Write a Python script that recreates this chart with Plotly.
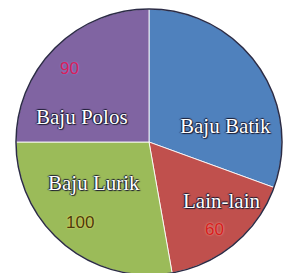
import plotly.graph_objects as go

labels = ["Baju Batik", "Lain-lain", "Baju Lurik", "Baju Polos"]
values = [110, 60, 100, 90]
show_value = [False, True, True, True]
colors = ["#4f81bd", "#c0504d", "#9bbb59", "#8064a2"]

W, H = 292, 276
OFF = 8  # page body margin offset
cx, cy, r = 149 - OFF, 142 - OFF, 133  # pixel geometry of the pie in figure coords

dom_x = [(cx - r) / W, (cx + r) / W]
dom_y = [(H - cy - r) / H, (H - cy + r) / H]

fig = go.Figure(go.Pie(
    labels=labels, values=values, sort=False, direction="clockwise", rotation=0,
    marker=dict(colors=colors, line=dict(color="rgba(255,255,255,0.85)", width=1)),
    textinfo="none", hoverinfo="label+value", showlegend=False,
    domain=dict(x=dom_x, y=dom_y),
))

# outer dark rim
fig.add_shape(type="circle", xref="paper", yref="paper",
              x0=dom_x[0], x1=dom_x[1], y0=dom_y[0], y1=dom_y[1],
              line=dict(color="#2b2b45", width=1.5))

# annotation placement (page pixels) for name and value of each slice
name_pos = [(225, 126), (221, 201), (94, 183), (82, 117)]
value_pos = [None, (215, 229), (80, 222), (69, 69)]
value_colors = [None, "#d81c1c", "#4a3a0c", "#d8205a"]
value_shadow = [None, "0 0 2px #f0b0a0", "0 0 2px #ffe060", "0 0 2px #9080d0"]

def px(p):
    return (p[0] - OFF) / W, (H - (p[1] - OFF)) / H

for i, lab in enumerate(labels):
    x, y = px(name_pos[i])
    fig.add_annotation(x=x, y=y, xref="paper", yref="paper", text=lab, showarrow=False,
                       xanchor="center", yanchor="middle",
                       font=dict(family="Liberation Serif", size=21, color="white",
                                 shadow="1px 1px 1px #1a1a30, -1px 0 1px #1a1a30, 0 -1px 1px #1a1a30"))
    if show_value[i]:
        x, y = px(value_pos[i])
        fig.add_annotation(x=x, y=y, xref="paper", yref="paper", text=str(values[i]), showarrow=False,
                           xanchor="center", yanchor="middle",
                           font=dict(family="Liberation Sans", size=17, color=value_colors[i],
                                     shadow=value_shadow[i]))

fig.update_layout(width=W, height=H, margin=dict(l=0, r=0, t=0, b=0),
                  paper_bgcolor="white", plot_bgcolor="white")
fig.write_html("out.html")
